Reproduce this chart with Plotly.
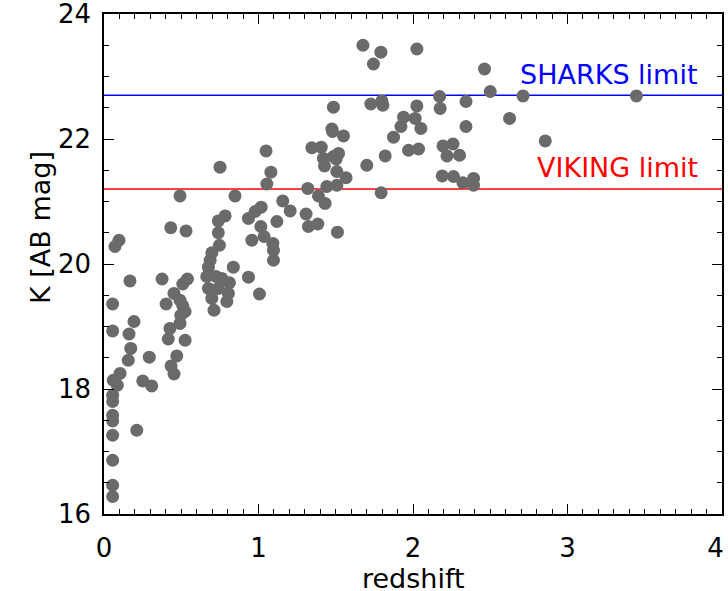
import plotly.graph_objects as go

# redshift values
redshift = [
    0.056, 0.056, 0.056, 0.056, 0.056, 0.056, 0.056, 0.056, 0.060, 0.086,
    0.104, 0.056, 0.056, 0.071, 0.097, 0.212, 0.157, 0.173, 0.162, 0.194,
    0.168, 0.251, 0.309, 0.293, 0.376, 0.402, 0.432, 0.492, 0.531, 0.453,
    0.434, 0.471, 0.416, 0.427, 0.525, 0.492, 0.497, 0.525, 0.510, 0.492,
    0.453, 0.510, 0.540,
    1.054, 0.848, 0.740, 0.784, 0.740, 0.747, 0.698, 0.687, 0.676, 0.665,
    0.725, 0.676, 0.740, 0.698, 0.712, 0.762, 0.812, 0.805, 0.795, 0.837,
    0.935, 1.006, 0.935, 0.978, 1.017, 0.957, 1.015, 1.036, 1.093, 1.097,
    1.097, 1.119, 1.157, 1.205, 0.751, 1.049, 1.080,
    1.676, 1.792, 1.744, 2.025, 1.485, 1.727, 1.799, 1.805, 2.025, 2.172,
    2.176, 1.939, 2.014, 1.922, 2.051, 1.874, 1.475, 1.479, 1.550, 1.345,
    1.406, 1.420, 1.485, 1.518, 1.503, 1.427, 1.507, 1.567, 1.701, 1.820,
    1.971, 2.036, 2.194, 2.259, 2.220, 2.301, 2.189, 2.262, 2.323, 2.392,
    2.392, 1.319, 1.388, 1.442, 1.507, 1.431, 1.794, 1.308, 1.323, 1.384,
    1.511, 2.343, 2.343,
    2.463, 2.500, 2.712, 3.446, 2.625, 2.856,
]

# K magnitudes [AB]
k_mag = [
    16.28, 16.46, 16.86, 17.26, 17.49, 17.58, 17.80, 17.90, 18.14, 18.06,
    18.25, 18.93, 19.36, 20.28, 20.38, 17.34, 18.46, 18.65, 18.88, 19.08,
    19.73, 18.13, 18.05, 18.51, 19.76, 19.36, 20.58, 21.09, 20.53, 18.24,
    18.37, 18.53, 18.80, 18.97, 18.78, 19.05, 19.18, 19.24, 19.33, 19.42,
    19.53, 19.68, 19.76,
    21.28, 21.09, 20.69, 20.77, 20.50, 20.30, 20.18, 20.06, 19.95, 19.80,
    19.80, 19.61, 19.61, 19.45, 19.26, 19.77, 19.70, 19.53, 19.40, 19.95,
    19.79, 19.52, 20.73, 20.84, 20.91, 20.38, 20.60, 20.44, 20.33, 20.22,
    20.06, 20.68, 21.01, 20.85, 21.55, 21.81, 21.47,
    23.50, 23.39, 23.20, 23.44, 22.51, 22.56, 22.61, 22.54, 22.53, 22.68,
    22.49, 22.35, 22.33, 22.20, 22.17, 22.03, 22.16, 22.12, 22.05, 21.86,
    21.87, 21.69, 21.72, 21.77, 21.68, 21.57, 21.48, 21.38, 21.58, 21.73,
    21.82, 21.84, 21.89, 21.92, 21.73, 21.74, 21.41, 21.40, 21.30, 21.37,
    21.26, 21.21, 21.09, 21.24, 21.26, 20.97, 21.14, 20.80, 20.60, 20.64,
    20.51, 22.60, 22.20,
    23.12, 22.76, 22.69, 22.69, 22.33, 21.97,
]

limit_names = ["SHARKS limit", "VIKING limit"]
limit_values = [22.7, 21.2]
limit_colors = ["#0000ff", "#ff0000"]
label_y = [23.04, 21.55]

x_range = [0, 4]
y_range = [16, 24]
x_tickvals = [0, 1, 2, 3, 4]
x_ticktext = ["0", "1", "2", "3", "4\u2002"]

x_title = "redshift"
y_title = "K [AB mag]"

FONT = "DejaVu Sans"

fig = go.Figure()

for name, val, col in zip(limit_names, limit_values, limit_colors):
    fig.add_trace(go.Scatter(
        x=x_range, y=[val, val], mode="lines",
        line=dict(color=col, width=1.6), showlegend=False, hoverinfo="skip",
    ))

fig.add_trace(go.Scatter(
    x=redshift, y=k_mag, mode="markers",
    marker=dict(color="#6a6a6a", size=13, line=dict(width=0)),
    showlegend=False,
))

for name, ly, col in zip(limit_names, label_y, limit_colors):
    fig.add_annotation(
        x=3.86, y=ly, xref="x", yref="y", text=name, showarrow=False,
        xanchor="right", yanchor="middle",
        font=dict(family=FONT, size=27, color=col),
    )

# axis titles
fig.add_annotation(
    x=0.5, y=0, xref="paper", yref="paper", text=x_title, showarrow=False,
    xanchor="center", yanchor="middle", yshift=-64,
    font=dict(family=FONT, size=27, color="black"),
)
fig.add_annotation(
    x=0, y=0.5, xref="paper", yref="paper", text=y_title, showarrow=False,
    textangle=-90, xanchor="center", yanchor="middle", xshift=-64, yshift=36,
    font=dict(family=FONT, size=27, color="black"),
)

axis_common = dict(
    showgrid=False, zeroline=False, showline=True, linecolor="black",
    linewidth=1.5, mirror="allticks", ticks="inside", ticklen=10,
    tickwidth=1.2, tickcolor="black", automargin=False,
    ticklabeloverflow="allow",
    tickfont=dict(family=FONT, size=26, color="black"),
)

fig.update_xaxes(
    range=x_range, tickmode="array", tickvals=x_tickvals, ticktext=x_ticktext,
    minor=dict(dtick=0.1, tick0=0, ticks="inside", ticklen=5, tickcolor="black", tickwidth=1),
    ticklabelstandoff=10,
    **axis_common,
)
fig.update_yaxes(
    range=y_range, dtick=2, tick0=16,
    minor=dict(dtick=0.5, ticks="inside", ticklen=5, tickcolor="black", tickwidth=1),
    ticklabelstandoff=6,
    **axis_common,
)

fig.update_layout(
    width=728, height=591,
    margin=dict(l=104, r=6, t=14, b=77),
    plot_bgcolor="white", paper_bgcolor="white",
)

# remove the browser's default 8px body margin so the figure fills the window
fig.write_html("out.html", config={"displayModeBar": False},
               post_script="document.body.style.margin='0';")
